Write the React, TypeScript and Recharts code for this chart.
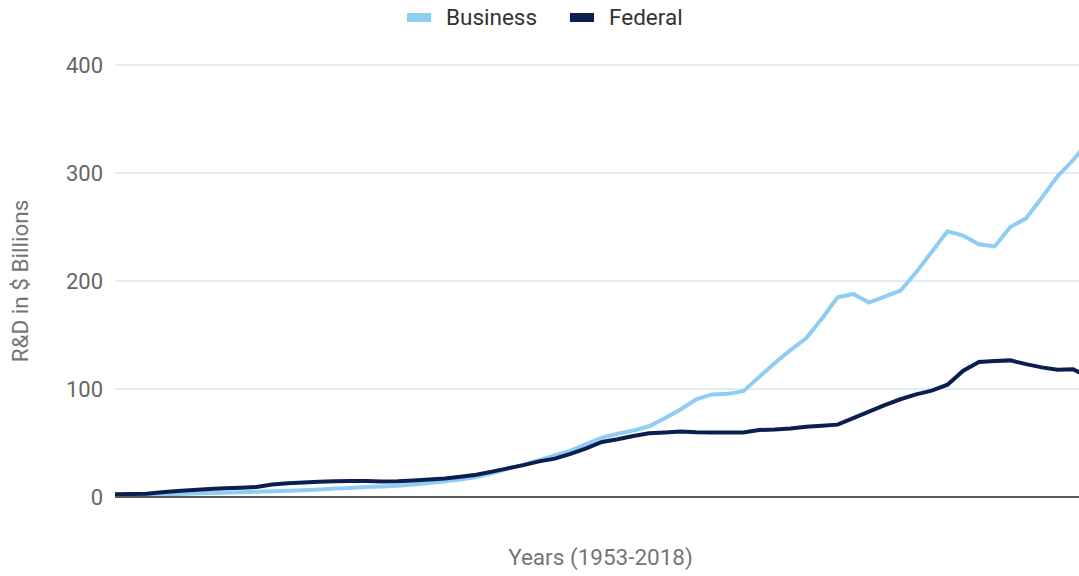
import { LineChart, Line, XAxis, YAxis, CartesianGrid, Legend } from "recharts"

// one point per year, 1953-2018
const years = Array.from({ length: 66 }, (_, i) => String(1953 + i))

// R&D funding, $ billions
const business = [
  1.8, 1.9, 2.0, 2.4, 2.8, 3.2, 3.6, 4.0, 4.4, 4.8,
  5.3, 5.8, 6.3, 6.9, 7.8, 8.3, 9.2, 9.8, 10.5, 11.5,
  13.0, 14.6, 16.2, 18.5, 22.0, 26.0, 30.0, 34.0, 38.5, 43.0,
  49.0, 55.0, 58.5, 61.5, 65.5, 73.0, 81.0, 90.5, 95.0, 95.5,
  98.0, 111.0, 124.0, 136.0, 147.0, 165.0, 185.0, 188.0, 180.0, 185.5,
  191.0, 208.0, 227.0, 246.0, 242.0, 234.0, 232.0, 250.0, 258.0, 277.0,
  297.0, 312.0, 330.0, 345.0, 362.0, 380.0,
]

const federal = [
  2.6, 2.8, 3.1, 4.3, 5.5, 6.5, 7.3, 8.0, 8.5, 9.2,
  11.5, 12.8, 13.4, 14.1, 14.5, 14.8, 14.9, 14.3, 14.6, 15.3,
  16.2, 17.2, 18.8, 20.6, 23.5, 26.5, 29.5, 33.0, 35.5, 40.0,
  45.0, 51.0, 53.5, 56.5, 59.0, 59.8, 60.6, 60.0, 59.8, 59.8,
  59.8, 62.0, 62.5, 63.5, 65.0, 66.0, 67.0, 73.0, 79.0, 85.0,
  90.5, 95.0, 98.5, 104.0, 117.0, 125.0, 126.0, 126.5, 123.0, 120.0,
  117.8, 118.3, 111.0, 113.0, 116.0, 118.0,
]

const yTicks = [0, 100, 200, 300, 400]

const data = years.map((year, i) => ({ year, business: business[i], federal: federal[i] }))

const BUSINESS = "#90cdf4"
const FEDERAL = "#0a1f4f"

function LegendBox() {
  const items = [
    { name: "Business", color: BUSINESS, left: 0 },
    { name: "Federal", color: FEDERAL, left: 163 },
  ]
  return (
    <div style={{ position: "relative", height: 30 }}>
      {items.map((it) => (
        <div key={it.name} style={{ position: "absolute", left: it.left, top: 0, height: 30, display: "flex", alignItems: "center" }}>
          <span style={{ display: "inline-block", width: 24, height: 9, background: it.color, marginRight: 15 }} />
          <span style={{ fontSize: 22.5, color: "#333", lineHeight: "30px" }}>{it.name}</span>
        </div>
      ))}
    </div>
  )
}

export default function App() {
  return (
    <div style={{ position: "absolute", left: 0, top: 0, width: 1079, height: 576, overflow: "hidden", fontFamily: "Roboto, sans-serif", background: "#fff" }}>
      <LineChart width={1141} height={576} data={data} margin={{ top: 35, right: 5, left: 0, bottom: 0 }}>
        <CartesianGrid vertical={false} stroke="#d4e7f6" strokeWidth={1.5} />
        <Legend
          verticalAlign="top"
          content={() => <LegendBox />}
          wrapperStyle={{ top: 2, left: 407, width: 320, height: 30 }}
        />
        <XAxis
          dataKey="year"
          tick={false}
          tickLine={false}
          axisLine={{ stroke: "#5a5a5a", strokeWidth: 2 }}
          height={79}
          label={{ value: "Years (1953-2018)", position: "insideBottom", offset: 11, dx: -25, fill: "#757575", fontSize: 22.5 }}
        />
        <YAxis
          domain={[0, 400]}
          ticks={yTicks}
          axisLine={false}
          tickLine={false}
          tickSize={0}
          tickMargin={12}
          width={115}
          tick={{ fill: "#666", fontSize: 22 }}
          label={{ value: "R&D in $ Billions", angle: -90, position: "insideLeft", offset: 20, style: { textAnchor: "middle" }, fill: "#757575", fontSize: 22.5 }}
        />
        <Line type="linear" dataKey="business" name="Business" stroke={BUSINESS} strokeWidth={4} dot={false} isAnimationActive={false} />
        <Line type="linear" dataKey="federal" name="Federal" stroke={FEDERAL} strokeWidth={4} dot={false} isAnimationActive={false} />
      </LineChart>
    </div>
  )
}
